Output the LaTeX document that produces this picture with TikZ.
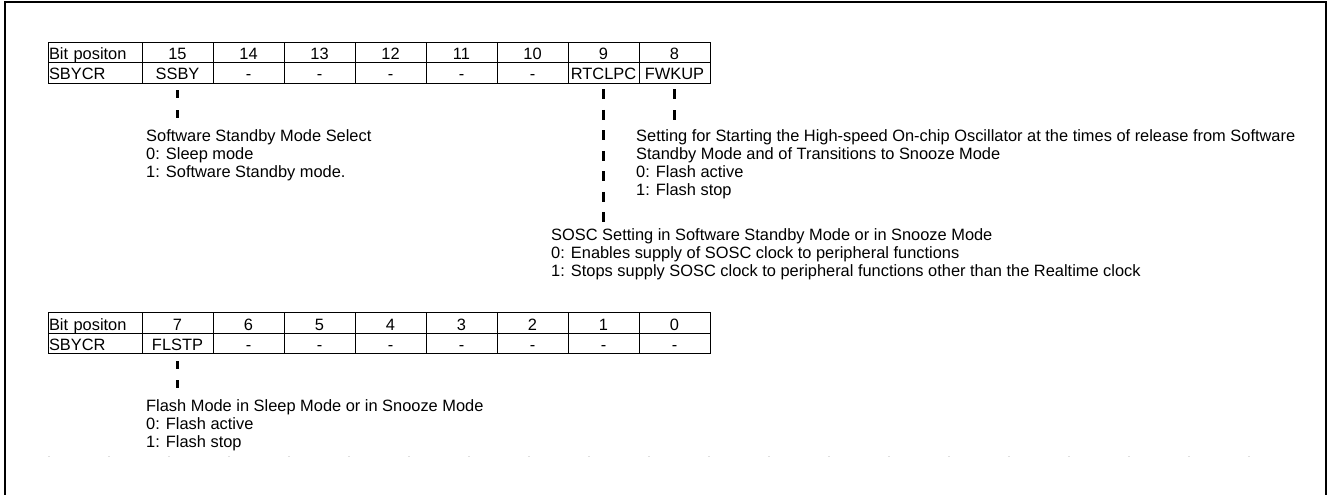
\documentclass[tikz,border=0pt]{standalone}
\usepackage{fontspec}
\setmainfont{Liberation Sans}
\newcommand{\fstrut}{\rule{0pt}{13pt}}
\begin{document}
\begin{tikzpicture}[x=1pt,y=-1pt,
  txt/.style={font=\fontsize{16.4}{18}\selectfont},
  cell/.style={txt, draw, line width=0.8pt, inner sep=0pt, minimum width=71pt, minimum height=20pt, text height=16.5pt, text depth=1.5pt},
  hcell/.style={cell, minimum width=94pt, text width=92pt, align=left},
  conn/.style={line width=2.4pt},
  desc/.style={txt, anchor=north west, inner sep=0pt, align=left}
]
\clip (0,0) rectangle (1328,495);
\draw[line width=2.5pt] (5,2.2) rectangle (1326,520);
% table 1
\node[hcell] (ha) at (95,52) {Bit positon};
\node[hcell, minimum height=21pt] (hb) at (95,72.5) {SBYCR};
\foreach \n/\lab [count=\i from 0] in {15/SSBY,14/-,13/-,12/-,11/-,10/-,9/RTCLPC,8/FWKUP} {
  \node[cell] (a\n) at (177.5+71*\i,52) {\n};
  \node[cell, minimum height=21pt] (b\n) at (177.5+71*\i,72.5) {\lab};
}
% table 2
\node[hcell, minimum height=21pt] (hc) at (95,322.5) {Bit positon};
\node[hcell] (hd) at (95,343) {SBYCR};
\foreach \n/\lab [count=\i from 0] in {7/FLSTP,6/-,5/-,4/-,3/-,2/-,1/-,0/-} {
  \node[cell, minimum height=21pt] (c\n) at (177.5+71*\i,322.5) {\n};
  \node[cell] (d\n) at (177.5+71*\i,343) {\lab};
}
% descriptions
\node[desc] (t15) at (146,128) {\fstrut Software Standby Mode Select\\0: Sleep mode\\1: Software Standby mode.};
\node[desc] (t8) at (636,128) {\fstrut Setting for Starting the High-speed On-chip Oscillator at the times of release from Software\\Standby Mode and of Transitions to Snooze Mode\\0: Flash active\\1: Flash stop};
\node[desc] (t9) at (551,227) {\fstrut SOSC Setting in Software Standby Mode or in Snooze Mode\\0: Enables supply of SOSC clock to peripheral functions\\1: Stops supply SOSC clock to peripheral functions other than the Realtime clock};
\node[desc] (t7) at (146,398) {\fstrut Flash Mode in Sleep Mode or in Snooze Mode\\0: Flash active\\1: Flash stop};
% connectors
\coordinate (e15) at (177.5,118);
\coordinate (e9) at (603.5,222);
\coordinate (e8) at (674.5,120);
\coordinate (e7) at (177.5,388);
\draw[conn, dash pattern=on 8pt off 12pt, shorten <=7pt] (b15) -- (e15);
\draw[conn, dash pattern=on 10pt off 10.5pt, shorten <=6pt] (b9) -- (e9);
\draw[conn, dash pattern=on 10pt off 11pt, shorten <=6pt] (b8) -- (e8);
\draw[conn, dash pattern=on 8pt off 11pt, shorten <=8pt] (d7) -- (e7);
% faint dotted rule
\draw[gray!25, line width=0.8pt, dash pattern=on 2pt off 58pt] (48,456) -- (1275,456);
\end{tikzpicture}
\end{document}
